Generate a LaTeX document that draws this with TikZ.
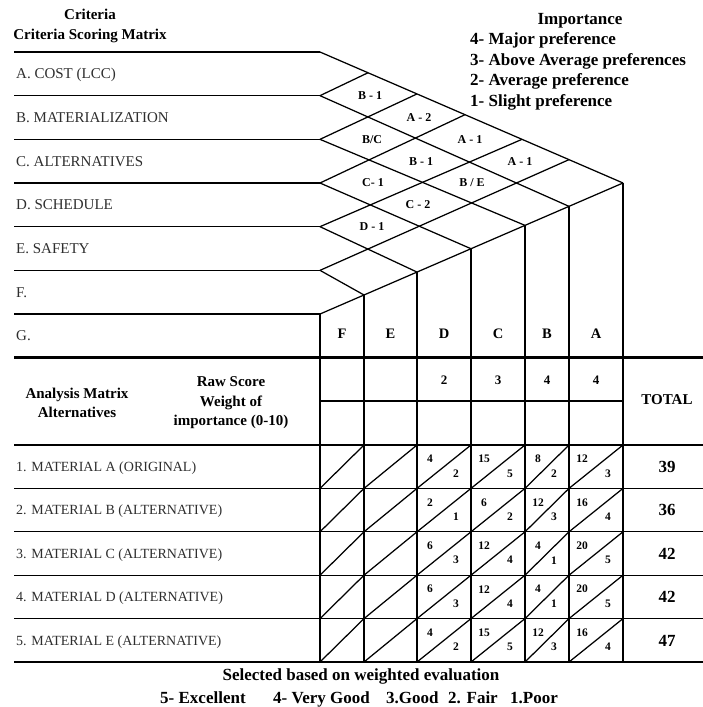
\documentclass[tikz,border=0pt]{standalone}
\usepackage{fontspec}
\setmainfont{Liberation Serif}
\begin{document}
\begin{tikzpicture}[x=1pt,y=-1pt,
  grid/.style={line width=1.25pt},
  heavy/.style={line width=2.6pt},
  crit/.style={anchor=base west,inner sep=0pt,text=black!82,font=\fontsize{15}{15}\selectfont},
  mat/.style={anchor=base west,inner sep=0pt,text=black!82,font=\fontsize{14}{14}\selectfont},
  pairlbl/.style={inner sep=0pt,font=\bfseries\fontsize{12}{12}\selectfont},
  colhead/.style={inner sep=0pt,font=\bfseries\fontsize{14.5}{14.5}\selectfont},
  wt/.style={inner sep=0pt,font=\bfseries\fontsize{13}{13}\selectfont},
  cellnum/.style={inner sep=0pt,font=\bfseries\fontsize{11.5}{11.5}\selectfont},
  total/.style={inner sep=0pt,font=\bfseries\fontsize{17}{17}\selectfont},
  head/.style={inner sep=0pt,align=center,font=\bfseries\fontsize{15}{19.5}\selectfont},
  legend/.style={inner sep=0pt,anchor=base,font=\bfseries\fontsize{17}{17}\selectfont},
]
\useasboundingbox (0,0) rectangle (703,707);

% ---------- criteria scoring matrix ----------
\foreach \k in {0,...,7} \coordinate (L\k) at (320,{52+43.67*\k});
\foreach \k in {0,...,6} \coordinate (W\k) at (14,{52+43.67*\k});
\foreach \k/\x in {1/368,2/417,3/465,4/522,5/569,6/623}
  \coordinate (T\k) at (\x,{52+0.4323*(\x-320)});
\foreach \k/\x in {0/623,1/569,2/525,3/471,4/417,5/364}
  \coordinate (B\k) at (\x,{314-0.4323*(\x-320)});
\coordinate (bot) at (0,662);

\foreach \k in {0,...,6} \draw[grid] (W\k) -- (L\k);
\draw[grid] (L0) -- (T6);
\foreach \k in {1,...,6} \draw[grid] (L\k) -- (T\k);
\foreach \k in {1,...,5} \draw[grid] (L\k) -- (B\k);
\foreach \k in {0,...,5} \draw[grid] (B\k) -- (B\k |- bot);
\draw[grid] (L6) -- (L6 |- bot);

% criteria names
\foreach \t [count=\i] in {A. COST (LCC),B. MATERIALIZATION,C. ALTERNATIVES,D. SCHEDULE,E. SAFETY,F.,G.}
  \node[crit] (crit\i) at (16,{52+43.67*(\i-0.5)+5}) {\t};

% pairwise preferences
\node[pairlbl] (pAB) at (370,96)  {B - 1};
\node[pairlbl] (pAC) at (419,118) {A - 2};
\node[pairlbl] (pBC) at (372,140) {B/C};
\node[pairlbl] (pAD) at (470,140) {A - 1};
\node[pairlbl] (pBD) at (421,162) {B - 1};
\node[pairlbl] (pAE) at (520,162) {A - 1};
\node[pairlbl] (pCD) at (373,183) {C- 1};
\node[pairlbl] (pBE) at (472,183) {B / E};
\node[pairlbl] (pCE) at (418,205) {C - 2};
\node[pairlbl] (pDE) at (372,227) {D - 1};

% column letters
\foreach \c/\x in {F/342,E/390.5,D/444,C/498,B/547,A/596}
  \node[colhead] (col\c) at (\x,334) {\c};

% headings
\node[head] (crithead) at (90,26) {Criteria\\Criteria Scoring Matrix};
\node[legend] (imphead) at (580,24) {Importance};
\foreach \t/\y [count=\i] in {4- Major preference/44.3,3- Above Average preferences/65,2- Average preference/85.5,1- Slight preference/106}
  \node[legend,anchor=base west] (imp\i) at (470,\y) {\t};

% ---------- analysis matrix ----------
\draw[heavy] (14,357.7) -- (703,357.7);
\draw[grid] (320,401) -- (623,401);
\foreach \y in {445,488.4,531.8,575.2,618.6} \draw[grid] (14,\y) -- (703,\y);
\draw[heavy] (14,662) -- (703,662);

\node[head] (anahead) at (77,403) {Analysis Matrix\\Alternatives};
\node[head] (rawhead) at (231,403) {Raw Score\\Weight of\\importance (0-10)};
\node[colhead,font=\bfseries\fontsize{15}{15}\selectfont] (totalhead) at (667,400) {TOTAL};
\foreach \c/\x/\v in {D/444/2,C/498/3,B/547/4,A/596/4}
  \node[wt] (wt\c) at (\x,380) {\v};

\foreach \t/\dv/\dw/\cv/\cw/\bv/\bw/\av/\aw/\tot [count=\i] in {
  1. MATERIAL A (ORIGINAL)/4/2/15/5/8/2/12/3/39,
  2. MATERIAL B (ALTERNATIVE)/2/1/6/2/12/3/16/4/36,
  3. MATERIAL C (ALTERNATIVE)/6/3/12/4/4/1/20/5/42,
  4. MATERIAL D (ALTERNATIVE)/6/3/12/4/4/1/20/5/42,
  5. MATERIAL E (ALTERNATIVE)/4/2/15/5/12/3/16/4/47}{
  \pgfmathsetmacro{\yt}{445+43.4*(\i-1)}
  \pgfmathsetmacro{\yb}{\yt+43.4}
  \node[mat] (alt\i) at (16,{\yt+26.5}) {\t};
  \foreach \xl/\xr in {320/364,364/417,417/471,471/525,525/569,569/623}
    \draw[grid] (\xl,\yb) -- (\xr,\yt);
  \foreach \c/\xl/\xr/\v/\w in {D/417/471/\dv/\dw,C/471/525/\cv/\cw,B/525/569/\bv/\bw,A/569/623/\av/\aw}{
    \node[cellnum] (raw\c\i) at ({\xl+13},{\yt+14}) {\v};
    \node[cellnum] (wgt\c\i) at ({\xr-15},{\yb-15}) {\w};
  }
  \node[total] (tot\i) at (667,{\yt+22}) {\tot};
}

% rating scale
\node[legend] (sel) at (361,680.5) {Selected based on weighted evaluation};
\foreach \t/\x [count=\i] in {5- Excellent/160,4- Very Good/273,3.Good/386,2. Fair/448,1.Poor/510}
  \node[legend,anchor=base west] (scale\i) at (\x,703) {\t};
\end{tikzpicture}
\end{document}
